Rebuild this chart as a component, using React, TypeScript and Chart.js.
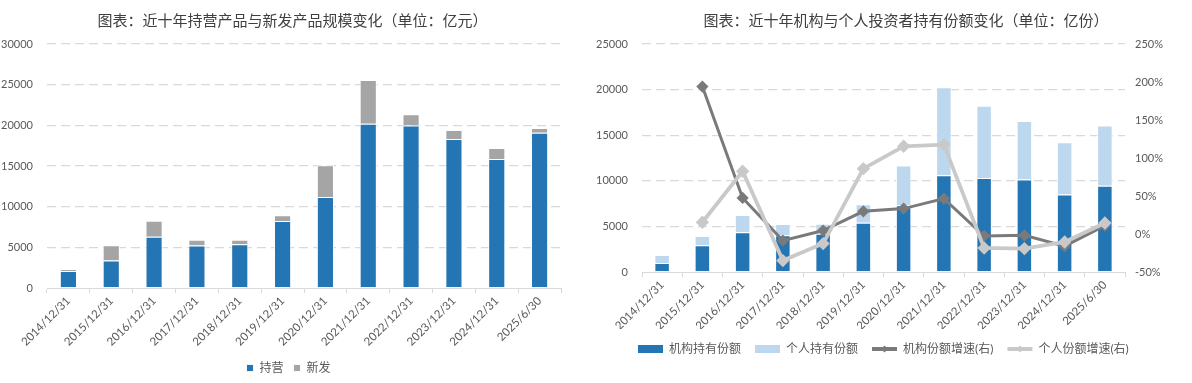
import React, { useEffect, useRef } from 'react';
import { Chart, registerables } from 'chart.js';

Chart.register(...registerables);

const categories = [
  '2014/12/31', '2015/12/31', '2016/12/31', '2017/12/31', '2018/12/31', '2019/12/31',
  '2020/12/31', '2021/12/31', '2022/12/31', '2023/12/31', '2024/12/31', '2025/6/30',
];
const holdingScale = [2100, 3370, 6300, 5220, 5380, 8230, 11190, 20200, 19970, 18320, 15860, 19100];
const newIssueScale = [250, 1890, 1970, 710, 550, 700, 3900, 5370, 1380, 1110, 1340, 570];

const institutionShares = [990, 2930, 4360, 4030, 4200, 5390, 7330, 10600, 10300, 10140, 8490, 9460];
const individualShares = [880, 1030, 1900, 1240, 1085, 2050, 4350, 9650, 7940, 6420, 5730, 6600];
const institutionGrowth = [null, 194, 47.4, -8.7, 4.5, 29.9, 33.4, 46.6, -2.6, -1.7, -16, 11];
const individualGrowth = [null, 15.4, 82.6, -35, -12.6, 86, 115.4, 117.6, -18.4, -19.2, -10.5, 14.5];

const leftTitle = '图表：近十年持营产品与新发产品规模变化（单位：亿元）';
const rightTitle = '图表：近十年机构与个人投资者持有份额变化（单位：亿份）';
const leftLabels = ['持营', '新发'];
const rightLabels = ['机构持有份额', '个人持有份额', '机构份额增速(右)', '个人份额增速(右)'];

const FONT = 'Lato, "Noto Sans CJK SC", sans-serif';
const CJK = '"Noto Sans CJK SC", sans-serif';
const TICK = '#595959';
const GRID = '#d9d9d9';
const BLUE = '#2475b4';
const GREY = '#a5a5a5';
const LIGHT_BLUE = '#bdd7ee';
const DARK_LINE = '#7a7a7a';
const LIGHT_LINE = '#c9c9c9';

const gridColor = (ctx: any) => (ctx.tick && ctx.tick.value === 0 ? 'rgba(0,0,0,0)' : GRID);

// shifts the title / legend boxes horizontally after layout
const shiftPlugin = {
  id: 'shiftBoxes',
  afterLayout(chart: any, _args: any, opts: any) {
    if (chart.titleBlock && opts && opts.title) {
      chart.titleBlock.left += opts.title;
      chart.titleBlock.right += opts.title;
    }
    if (chart.legend && opts && opts.legend) {
      chart.legend.left += opts.legend;
      chart.legend.right += opts.legend;
    }
  },
};

const legendMarkerPlugin = {
  id: 'legendMarker',
  afterDraw(chart: any) {
    const legend = chart.legend;
    if (!legend || !legend.legendItems) return;
    const ctx = chart.ctx;
    legend.legendItems.forEach((item: any, i: number) => {
      const ds = chart.data.datasets[item.datasetIndex];
      if (ds.type !== 'line') return;
      const hb = legend.legendHitBoxes[i];
      if (!hb) return;
      const cx = hb.left + 12.5;
      const cy = hb.top + 6;
      const r = 3.5;
      ctx.save();
      ctx.fillStyle = ds.borderColor;
      ctx.beginPath();
      ctx.moveTo(cx, cy - r);
      ctx.lineTo(cx + r, cy);
      ctx.lineTo(cx, cy + r);
      ctx.lineTo(cx - r, cy);
      ctx.closePath();
      ctx.fill();
      ctx.restore();
    });
  },
};

function LeftChart() {
  const ref = useRef<HTMLCanvasElement>(null);
  useEffect(() => {
    if (!ref.current) return;
    const chart = new Chart(ref.current, {
      type: 'bar',
      data: {
        labels: categories,
        datasets: [
          {
            label: leftLabels[0],
            data: holdingScale,
            backgroundColor: BLUE,
            borderColor: 'rgba(255,255,255,0.9)',
            borderWidth: 1,
            categoryPercentage: 1,
            barPercentage: 0.4,
          },
          {
            label: leftLabels[1],
            data: newIssueScale,
            backgroundColor: GREY,
            borderColor: 'rgba(255,255,255,0.9)',
            borderWidth: 1,
            categoryPercentage: 1,
            barPercentage: 0.4,
          },
        ],
      },
      options: {
        animation: false,
        responsive: false,
        layout: { padding: { left: 0, right: 29, top: 0, bottom: 0 } },
        plugins: {
          shiftBoxes: { title: 12, legend: 8 },
          title: {
            display: true,
            text: leftTitle,
            font: { family: CJK, size: 15, weight: 'normal' },
            color: '#404040',
            padding: { top: 11, bottom: 15 },
          },
          legend: {
            position: 'bottom',
            labels: {
              boxWidth: 7,
              boxHeight: 7,
              padding: 10,
              color: TICK,
              font: { family: FONT, size: 12 },
            },
          },
          tooltip: { enabled: false },
        },
        scales: {
          x: {
            stacked: true,
            grid: { display: true, drawOnChartArea: false, drawTicks: true, tickLength: 5, color: GRID, offset: true },
            border: { display: true, color: GRID, width: 1 },
            ticks: { autoSkip: false, minRotation: 45, maxRotation: 45, color: TICK, font: { family: FONT, size: 11.5 }, padding: 1 },
            afterFit: (s: any) => { s.height = 64; },
          },
          y: {
            stacked: true,
            min: 0,
            max: 30000,
            ticks: { stepSize: 5000, color: TICK, font: { family: FONT, size: 11 }, padding: 14, callback: (v: any) => String(v) },
            grid: { color: gridColor, lineWidth: 1.3, drawTicks: false },
            border: { display: false, dash: [9, 5] },
            afterFit: (s: any) => { s.width = 47; },
          },
        },
      } as any,
      plugins: [shiftPlugin],
    });
    return () => chart.destroy();
  }, []);
  return <canvas ref={ref} width={590} height={384} style={{ position: 'absolute', left: 0, top: 0, width: 590, height: 384 }} />;
}

function RightChart() {
  const ref = useRef<HTMLCanvasElement>(null);
  useEffect(() => {
    if (!ref.current) return;
    const chart = new Chart(ref.current, {
      type: 'bar',
      data: {
        labels: categories,
        datasets: [
          {
            type: 'bar',
            label: rightLabels[0],
            data: institutionShares,
            backgroundColor: BLUE,
            borderColor: 'rgba(255,255,255,0.9)',
            borderWidth: 1,
            categoryPercentage: 1,
            barPercentage: 0.385,
            yAxisID: 'y',
            order: 2,
          },
          {
            type: 'bar',
            label: rightLabels[1],
            data: individualShares,
            backgroundColor: LIGHT_BLUE,
            borderColor: 'rgba(255,255,255,0.9)',
            borderWidth: 1,
            categoryPercentage: 1,
            barPercentage: 0.385,
            yAxisID: 'y',
            order: 2,
          },
          {
            type: 'line',
            label: rightLabels[2],
            data: institutionGrowth,
            borderColor: DARK_LINE,
            backgroundColor: DARK_LINE,
            borderWidth: 3,
            pointStyle: 'rectRot',
            pointRadius: 4,
            pointBackgroundColor: DARK_LINE,
            pointBorderColor: DARK_LINE,
            tension: 0,
            yAxisID: 'y1',
            order: 1,
          },
          {
            type: 'line',
            label: rightLabels[3],
            data: individualGrowth,
            borderColor: LIGHT_LINE,
            backgroundColor: LIGHT_LINE,
            borderWidth: 3.8,
            pointStyle: 'rectRot',
            pointRadius: 4,
            pointBackgroundColor: LIGHT_LINE,
            pointBorderColor: LIGHT_LINE,
            tension: 0,
            yAxisID: 'y1',
            order: 0,
          },
        ],
      },
      options: {
        animation: false,
        responsive: false,
        layout: { padding: { left: 0, right: 0, top: 0, bottom: 18 } },
        plugins: {
          shiftBoxes: { title: 15, legend: 34 },
          title: {
            display: true,
            text: rightTitle,
            font: { family: CJK, size: 15, weight: 'normal' },
            color: '#404040',
            padding: { top: 11, bottom: 15 },
          },
          legend: {
            position: 'bottom',
            align: 'start',
            labels: {
              usePointStyle: true,
              pointStyleWidth: 25,
              boxHeight: 8,
              padding: 14,
              color: TICK,
              font: { family: FONT, size: 12 },
              generateLabels: (c: any) => {
                const items = (Chart.defaults.plugins.legend.labels as any).generateLabels(c);
                items.forEach((it: any) => {
                  const ds = c.data.datasets[it.datasetIndex];
                  if (ds.type === 'line') {
                    it.pointStyle = 'line';
                    it.lineWidth = 4;
                    it.strokeStyle = ds.borderColor;
                    it.fillStyle = ds.borderColor;
                  } else {
                    it.pointStyle = 'rect';
                    it.lineWidth = 0;
                    it.fillStyle = ds.backgroundColor;
                  }
                });
                items.sort((a: any, b: any) => a.datasetIndex - b.datasetIndex);
                return items;
              },
            },
          },
          tooltip: { enabled: false },
        },
        scales: {
          x: {
            stacked: true,
            grid: { display: true, drawOnChartArea: false, drawTicks: true, tickLength: 5, color: GRID, offset: true },
            border: { display: true, color: GRID, width: 1 },
            ticks: { autoSkip: false, minRotation: 45, maxRotation: 45, color: TICK, font: { family: FONT, size: 11.5 }, padding: 1 },
            afterFit: (s: any) => { s.height = 57; },
          },
          y: {
            stacked: true,
            position: 'left',
            min: 0,
            max: 25000,
            ticks: { stepSize: 5000, color: TICK, font: { family: FONT, size: 11 }, padding: 14, callback: (v: any) => String(v) },
            grid: { color: gridColor, lineWidth: 1.3, drawTicks: false },
            border: { display: false, dash: [9, 5] },
            afterFit: (s: any) => { s.width = 52; },
          },
          y1: {
            position: 'right',
            min: -50,
            max: 250,
            ticks: { stepSize: 50, color: TICK, font: { family: FONT, size: 11 }, padding: 10, callback: (v: any) => `${v}%` },
            grid: { display: false, drawTicks: false },
            border: { display: false },
            afterFit: (s: any) => { s.width = 67; },
          },
        },
      } as any,
      plugins: [shiftPlugin, legendMarkerPlugin],
    });
    return () => chart.destroy();
  }, []);
  return <canvas ref={ref} width={602} height={383} style={{ position: 'absolute', left: 590, top: 0, width: 602, height: 383 }} />;
}

export default function App() {
  return (
    <div style={{ position: 'fixed', left: 0, top: 0, width: 1192, height: 383, overflow: 'hidden', background: '#ffffff' }}>
      <LeftChart />
      <RightChart />
    </div>
  );
}
